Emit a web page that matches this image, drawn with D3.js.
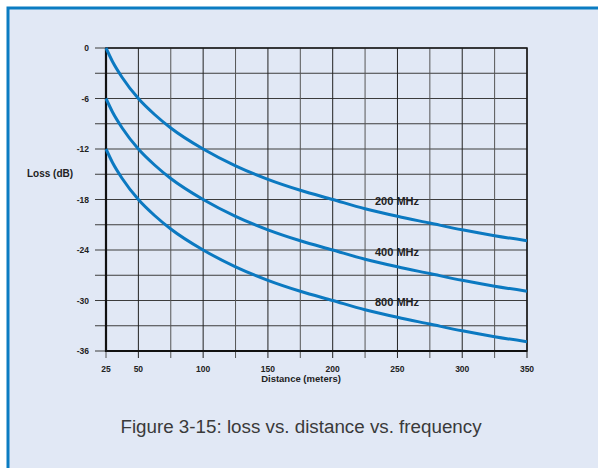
<!DOCTYPE html>
<html lang="en">
<head>
    <meta charset="UTF-8">
    <title>Loss vs distance vs frequency</title>
    <style>
        body { margin: 0; background: #fff; }
        svg { display: block; font-family: "Liberation Sans", Arial, sans-serif; }
    </style>
</head>
<body>
    <div id="chart"></div>

    <script src="https://d3js.org/d3.v7.min.js"></script>
    <script>
        // values (extra readings in the steep part near 25 m)
        const distances = [25, 30, 37.5, 50, 62.5, 75, 100, 125, 150, 175, 200, 225, 250, 275, 300, 325, 350]
        const loss200 = [0, -1.6, -3.5, -6, -7.9, -9.5, -12, -14, -15.6, -16.9, -18, -19.1, -20, -20.8, -21.6, -22.3, -22.9]
        const loss400 = [-6, -7.6, -9.5, -12, -13.9, -15.5, -18, -20, -21.6, -22.9, -24, -25.1, -26, -26.8, -27.6, -28.3, -28.9]
        const loss800 = [-12, -13.6, -15.5, -18, -19.9, -21.5, -24, -26, -27.6, -28.9, -30, -31.1, -32, -32.8, -33.6, -34.3, -34.9]
        const seriesNames = ['200 MHz', '400 MHz', '800 MHz']
        const gridDistances = [25, 50, 75, 100, 125, 150, 175, 200, 225, 250, 275, 300, 325, 350]
        const xTickLabels = [25, 50, 100, 150, 200, 250, 300, 350]
        const yTickLabels = [0, -6, -12, -18, -24, -30, -36]

        const width = 598
        const height = 468
        const plotLeft = 106, plotRight = 527, plotTop = 48, plotBottom = 351
        const lineColor = '#0b79c1'
        const gridColor = '#3c3c3c'

        const x = d3.scaleLinear().domain([25, 350]).range([plotLeft, plotRight])
        const y = d3.scaleLinear().domain([0, -36]).range([plotTop, plotBottom])

        const svg = d3.select('#chart')
            .append('svg')
            .attr('width', width)
            .attr('height', height)

        // frame
        svg.append('rect')
            .attr('x', 8).attr('y', 8)
            .attr('width', width).attr('height', height)
            .attr('fill', '#e1e8f5')
            .attr('stroke', '#0b7cc2')
            .attr('stroke-width', 3)

        // grid
        const grid = svg.append('g').attr('stroke', gridColor).attr('stroke-width', 1)
        grid.selectAll('line.h')
            .data(d3.range(0, -37, -3))
            .join('line')
            .attr('class', 'h')
            .attr('x1', plotLeft - 11).attr('x2', plotRight)
            .attr('y1', d => y(d)).attr('y2', d => y(d))
            .attr('stroke-width', (d, i) => i % 2 ? 1 : 1.2)
        grid.selectAll('line.v')
            .data(gridDistances)
            .join('line')
            .attr('class', 'v')
            .attr('x1', d => x(d)).attr('x2', d => x(d))
            .attr('y1', plotTop).attr('y2', plotBottom + 7)
            .attr('stroke', (d, i) => i % 2 ? '#222' : '#555')

        // plot border
        svg.append('rect')
            .attr('x', plotLeft).attr('y', plotTop)
            .attr('width', plotRight - plotLeft).attr('height', plotBottom - plotTop)
            .attr('fill', 'none')
            .attr('stroke', '#1a1a1a')
            .attr('stroke-width', 1.5)
        svg.append('path')
            .attr('d', `M${plotLeft},${plotTop}V${plotBottom}H${plotRight}`)
            .attr('fill', 'none')
            .attr('stroke', '#111')
            .attr('stroke-width', 2.2)

        // tick labels
        svg.append('g')
            .selectAll('text')
            .data(yTickLabels)
            .join('text')
            .attr('x', 89)
            .attr('y', d => y(d) + 3)
            .attr('text-anchor', 'end')
            .attr('font-size', 8.5)
            .attr('font-weight', 'bold')
            .attr('fill', '#222')
            .text(d => d)

        svg.append('g')
            .selectAll('text')
            .data(xTickLabels)
            .join('text')
            .attr('x', d => x(d))
            .attr('y', 372)
            .attr('text-anchor', 'middle')
            .attr('font-size', 8.5)
            .attr('font-weight', 'bold')
            .attr('fill', '#222')
            .text(d => d)

        svg.append('text')
            .attr('x', 301).attr('y', 382)
            .attr('text-anchor', 'middle')
            .attr('font-size', 9.5)
            .attr('font-weight', 'bold')
            .attr('fill', '#222')
            .text('Distance (meters)')

        svg.append('text')
            .attr('x', 27).attr('y', 177)
            .attr('font-size', 10)
            .attr('font-weight', 'bold')
            .attr('fill', '#222')
            .text('Loss (dB)')

        // curves
        const line = d3.line()
            .x(d => x(d[0]))
            .y(d => y(d[1]))
            .curve(d3.curveMonotoneX)

        const series = [loss200, loss400, loss800]
        svg.append('g')
            .selectAll('path')
            .data(series)
            .join('path')
            .attr('d', s => line(distances.map((d, i) => [d, s[i]])))
            .attr('fill', 'none')
            .attr('stroke', lineColor)
            .attr('stroke-width', 3)

        // series labels sit just above each curve near 250 m
        const labelAt = distances.indexOf(250)
        svg.append('g')
            .selectAll('text')
            .data(seriesNames)
            .join('text')
            .attr('x', 375)
            .attr('y', (d, i) => y(series[i][labelAt]) - 11)
            .attr('font-size', 11)
            .attr('font-weight', 'bold')
            .attr('fill', '#222')
            .text(d => d)

        svg.append('text')
            .attr('x', 301).attr('y', 433)
            .attr('text-anchor', 'middle')
            .attr('font-size', 18.8)
            .attr('fill', '#3a3a3a')
            .text('Figure 3-15: loss vs. distance vs. frequency')
    </script>
</body>
</html>
